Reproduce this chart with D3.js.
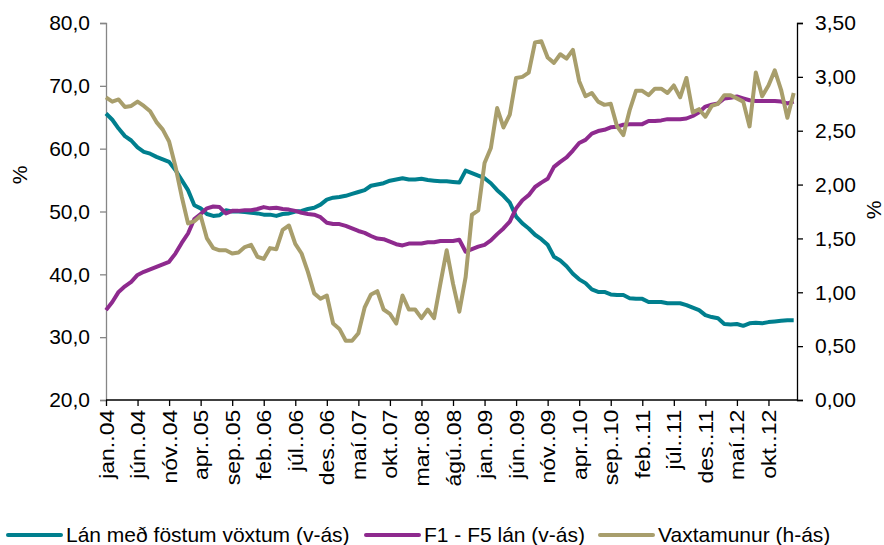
<!DOCTYPE html>
<html><head><meta charset="utf-8">
<script src="https://cdn.jsdelivr.net/npm/d3@7"></script>
<style>body{margin:0;background:#fff}svg{display:block}text{font-family:"Liberation Sans",Arial,sans-serif;fill:#000}</style>
</head><body><svg id="c" width="884" height="545"></svg>
<script>
const monthAbbr = ["jan.","feb.","mar.","apr.","maí","jún.","júl.","ágú.","sep.","okt.","nóv.","des."];
const years = ["04","05","06","07","08","09","10","11","12","13"];
const nMonths = 110;
const categories = [];
for (let i = 0; i < nMonths; i++) categories.push(monthAbbr[i % 12] + "." + years[Math.floor(i / 12)]);

const fixedRate = [65.6,64.6,63.2,62.0,61.3,60.2,59.5,59.2,58.7,58.3,57.9,56.6,55.0,53.4,51.0,50.5,49.6,49.3,49.4,50.2,
50.0,50.0,49.9,49.8,49.7,49.5,49.5,49.3,49.6,49.7,50.0,50.1,50.4,50.6,51.1,51.9,52.2,52.3,52.5,52.8,
53.1,53.4,54.1,54.3,54.5,54.9,55.1,55.3,55.1,55.1,55.2,55.0,54.9,54.8,54.8,54.7,54.6,56.5,56.1,55.7,
55.3,54.5,53.4,52.5,51.4,49.2,48.1,47.3,46.3,45.6,44.7,42.8,42.2,41.3,40.1,39.2,38.6,37.6,37.2,37.2,
36.8,36.7,36.7,36.2,36.1,36.1,35.6,35.6,35.6,35.4,35.4,35.4,35.1,34.7,34.3,33.5,33.2,33.0,32.1,32.0,
32.1,31.8,32.2,32.3,32.2,32.4,32.5,32.6,32.7,32.7];
const f1f5 = [34.3,35.6,37.2,38.1,38.8,39.9,40.4,40.8,41.2,41.6,42.0,43.3,45.0,46.5,48.8,49.6,50.5,50.8,50.7,49.7,
50.1,50.1,50.2,50.2,50.4,50.7,50.5,50.6,50.4,50.3,50.1,49.8,49.6,49.5,49.1,48.2,48.0,48.0,47.7,47.3,
46.9,46.6,46.1,45.7,45.6,45.2,44.8,44.6,44.9,44.9,44.9,45.1,45.1,45.3,45.3,45.3,45.5,43.6,44.0,44.4,
44.7,45.4,46.4,47.3,48.4,50.5,51.8,52.6,53.9,54.6,55.2,57.1,57.9,58.6,59.7,60.9,61.4,62.4,62.8,63.0,
63.4,63.5,63.8,63.9,63.9,63.9,64.4,64.4,64.5,64.7,64.7,64.7,64.8,65.2,65.8,66.7,67.0,67.2,68.0,68.1,
68.3,68.0,67.7,67.6,67.6,67.6,67.6,67.5,67.2,67.5];
const spread = [2.81,2.77,2.79,2.72,2.73,2.77,2.73,2.68,2.58,2.51,2.40,2.17,1.89,1.64,1.66,1.71,1.50,1.41,1.39,1.39,
1.36,1.37,1.42,1.44,1.33,1.31,1.41,1.40,1.58,1.62,1.45,1.36,1.19,0.99,0.94,0.97,0.71,0.66,0.55,0.55,
0.62,0.86,0.98,1.01,0.84,0.80,0.71,0.97,0.84,0.84,0.76,0.84,0.76,1.08,1.39,1.08,0.82,1.14,1.72,1.76,
2.20,2.34,2.71,2.53,2.65,2.99,3.00,3.04,3.32,3.33,3.18,3.13,3.21,3.17,3.25,2.96,2.82,2.85,2.77,2.74,
2.75,2.54,2.46,2.69,2.87,2.87,2.83,2.89,2.89,2.85,2.92,2.81,2.99,2.67,2.70,2.63,2.73,2.75,2.83,2.83,
2.80,2.77,2.54,3.04,2.82,2.92,3.06,2.88,2.62,2.85];

const leftTicks = [20,30,40,50,60,70,80];
const rightTicks = [0,0.5,1,1.5,2,2.5,3,3.5];
const seriesNames = ["Lán með föstum vöxtum (v-ás)","F1 - F5 lán (v-ás)","Vaxtamunur (h-ás)"];
const colors = ["#007f8e","#8e2a8e","#a89e6c"];

const svg = d3.select("#c");
const L = 106, R = 797, T = 23, B = 400;
const x = d3.scaleLinear().domain([0, nMonths - 1]).range([L, 793.7]);
const yL = d3.scaleLinear().domain([20, 80]).range([B, T]);
const yR = d3.scaleLinear().domain([0, 3.5]).range([B, T]);
const fmt1 = v => v.toFixed(1).replace(".", ",");
const fmt2 = v => v.toFixed(2).replace(".", ",");

// left axis
const gl = svg.append("g").attr("transform", `translate(${L},0)`)
  .call(d3.axisLeft(yL).tickValues(leftTicks).tickFormat(fmt1).tickSize(6).tickPadding(10));
gl.select(".domain").attr("stroke", "#868686").attr("stroke-width", 1.3);
gl.selectAll(".tick line").attr("stroke", "#868686").attr("stroke-width", 1.3);
gl.selectAll(".tick text").style("font-size", "21px");
// right axis
const gr = svg.append("g").attr("transform", `translate(${R},0)`)
  .call(d3.axisRight(yR).tickValues(rightTicks).tickFormat(fmt2).tickSize(6).tickPadding(12));
gr.select(".domain").attr("stroke", "#000").attr("stroke-width", 1.3);
gr.selectAll(".tick line").attr("stroke", "#000").attr("stroke-width", 1.3);
gr.selectAll(".tick text").style("font-size", "21px");
// bottom axis
const tickIdx = d3.range(0, nMonths, 5);
const gb = svg.append("g").attr("transform", `translate(0,${B})`)
  .call(d3.axisBottom(x).tickValues(tickIdx).tickFormat(i => categories[i]).tickSize(6).tickSizeOuter(0));
gb.select(".domain").remove();
gb.append("line").attr("x1", L).attr("x2", R).attr("y1", 0).attr("y2", 0).attr("stroke", "#000").attr("stroke-width", 1.3);
gb.selectAll(".tick line").attr("stroke", "#000").attr("stroke-width", 1.3);
gb.selectAll(".tick text").style("font-size", "20px").attr("text-anchor", "end")
  .attr("transform", "rotate(-90) scale(1.15,1)").attr("x", -8.5).attr("y", 0).attr("dy", "0.35em").attr("dx", 0);

// axis titles
svg.append("text").attr("transform", "translate(27,175) rotate(-90)").attr("text-anchor", "middle").style("font-size", "21px").text("%");
svg.append("text").attr("transform", "translate(881,210) rotate(-90)").attr("text-anchor", "middle").style("font-size", "21px").text("%");

// lines
const lineL = d3.line().x((d, i) => x(i)).y(d => yL(d));
const lineR = d3.line().x((d, i) => x(i)).y(d => yR(d));
[[fixedRate, lineL, 0], [f1f5, lineL, 1], [spread, lineR, 2]].forEach(([data, gen, k]) => {
  svg.append("path").datum(data).attr("d", gen).attr("fill", "none")
    .attr("stroke", colors[k]).attr("stroke-width", 4).attr("stroke-linejoin", "round");
});

// legend
const legX = [8, 366, 600];
seriesNames.forEach((n, k) => {
  const g = svg.append("g").attr("transform", `translate(${legX[k]},535)`);
  g.append("line").attr("x1", 0).attr("x2", 53).attr("stroke", colors[k]).attr("stroke-width", 4).attr("stroke-linecap", "round");
  g.append("text").attr("x", 58).attr("dy", "0.33em").style("font-size", "21px").text(n);
});
</script></body></html>
